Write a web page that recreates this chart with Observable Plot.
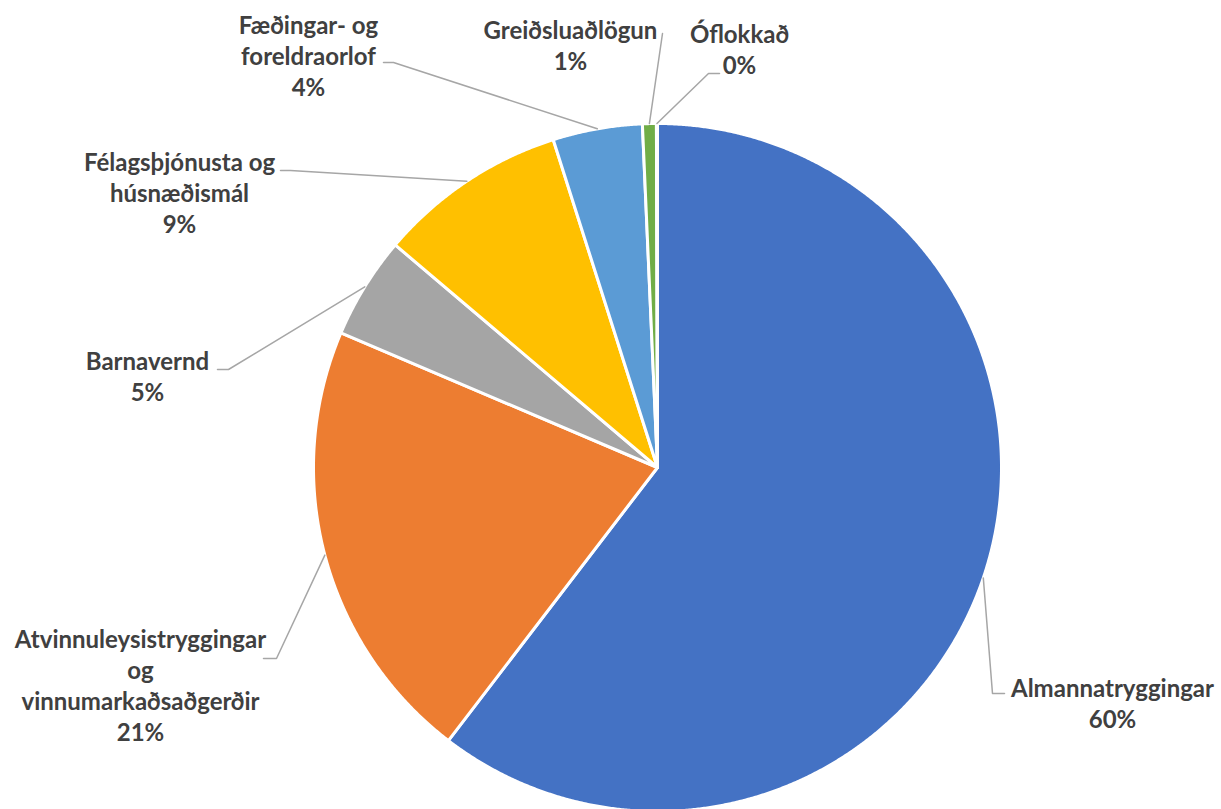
<!DOCTYPE html>
<html><head><meta charset="utf-8">
<script src="https://cdn.jsdelivr.net/npm/d3@7"></script>
<script src="https://cdn.jsdelivr.net/npm/@observablehq/plot@0.6"></script>
<style>html,body{margin:0;padding:0;background:#fff;overflow:hidden}</style>
</head><body><div id="chart"></div>
<script>
// ---- data ----
const categories = ["Almannatryggingar", "Atvinnuleysistryggingar og vinnumarkaðsaðgerðir", "Barnavernd", "Félagsþjónusta og húsnæðismál", "Fæðingar- og foreldraorlof", "Greiðsluaðlögun", "Óflokkað"];
const shares = [60.4, 21.0, 4.8, 8.9, 4.2, 0.65, 0.05];
const percentLabels = ["60%", "21%", "5%", "9%", "4%", "1%", "0%"];
const labelLines = [
  ["Almannatryggingar"],
  ["Atvinnuleysistryggingar", "og", "vinnumarkaðsaðgerðir"],
  ["Barnavernd"],
  ["Félagsþjónusta og", "húsnæðismál"],
  ["Fæðingar- og", "foreldraorlof"],
  ["Greiðsluaðlögun"],
  ["Óflokkað"]
];
const colors = ["#4472C4", "#ED7D31", "#A5A5A5", "#FFC000", "#5B9BD5", "#70AD47", "#264478"];

// ---- layout (pixels) ----
const W = 1221, H = 809;
const CX = 657, CY = 467, R = 344;
const LH = 31;
// label block: text centre x, first-line centre y; leader: elbow + end points
const labelLayout = [
  {x: 1112, y: 689, leader: [[992, 693], [1004, 693]]},
  {x: 140, y: 640, leader: [[276, 658], [263, 658]]},
  {x: 147, y: 362, leader: [[228, 369], [217, 369]]},
  {x: 179, y: 163, leader: [[290, 170], [280, 170]]},
  {x: 308, y: 26, leader: [[393, 62], [383, 62]]},
  {x: 570, y: 31, leader: [[662, 33]]},
  {x: 739, y: 35, leader: [[708, 73], [719, 73]]}
];

const arcs = d3.pie().sort(null).value(d => d)(shares);

const piePts = [];
arcs.forEach((a, i) => {
  const name = categories[i];
  piePts.push({name, x: CX, y: CY});
  const n = Math.max(2, Math.ceil((a.endAngle - a.startAngle) / (Math.PI / 720)));
  for (let k = 0; k <= n; k++) {
    const t = a.startAngle + (a.endAngle - a.startAngle) * k / n;
    piePts.push({name, x: CX + R * Math.sin(t), y: CY - R * Math.cos(t)});
  }
  piePts.push({name, x: CX, y: CY});
});

const leaderPts = [];
arcs.forEach((a, i) => {
  const name = categories[i];
  const m = (a.startAngle + a.endAngle) / 2;
  leaderPts.push({name, x: CX + R * Math.sin(m), y: CY - R * Math.cos(m)});
  labelLayout[i].leader.forEach(([x, y]) => leaderPts.push({name, x, y}));
});

const textRows = [];
categories.forEach((c, i) => {
  const lines = labelLines[i].concat([percentLabels[i]]);
  lines.forEach((t, j) => textRows.push({text: t, x: labelLayout[i].x, y: labelLayout[i].y + j * LH}));
});

const chart = Plot.plot({
  width: W, height: H, margin: 0,
  style: {fontFamily: "Lato, 'Open Sans', sans-serif", background: "#fff"},
  x: {domain: [0, W], range: [0, W], axis: null},
  y: {domain: [0, H], range: [0, H], axis: null},
  color: {domain: categories, range: colors},
  marks: [
    Plot.line(piePts, {x: "x", y: "y", z: "name", fill: "name", stroke: "white", strokeWidth: 3, strokeLinejoin: "round", curve: "linear"}),
    Plot.line(leaderPts, {x: "x", y: "y", z: "name", stroke: "#A6A6A6", strokeWidth: 1.5, curve: "linear"}),
    Plot.text(textRows, {x: "x", y: "y", text: "text", fontSize: 24, fontWeight: "bold", fill: "#404040", textAnchor: "middle"})
  ]
});
document.getElementById("chart").appendChild(chart);
</script>
</body></html>
